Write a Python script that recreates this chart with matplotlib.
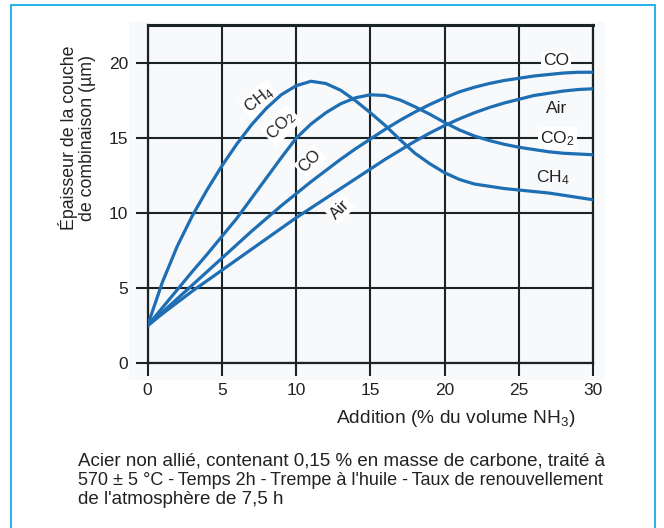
import matplotlib
matplotlib.use("Agg")
import matplotlib.pyplot as plt
from matplotlib.patches import Rectangle

plt.rcParams['font.family'] = ['Liberation Sans', 'DejaVu Sans']
plt.rcParams['mathtext.default'] = 'regular'

# Addition (% du volume NH3)
addition = [0, 1, 2, 3, 4, 5, 6, 7, 8, 9, 10, 11, 12, 13, 14, 15,
            16, 17, 18, 19, 20, 21, 22, 23, 24, 25, 26, 27, 28, 29, 30]

# Epaisseur de la couche de combinaison (um) for each added gas
ch4 = [2.5, 5.4, 7.8, 9.8, 11.55, 13.15, 14.6, 15.9, 17.0, 17.9, 18.5, 18.8, 18.65, 18.2, 17.5, 16.7,
       15.85, 14.9, 14.0, 13.3, 12.7, 12.25, 11.95, 11.8, 11.65, 11.55, 11.45, 11.35, 11.2, 11.05, 10.9]
co2 = [2.5, 3.7, 4.9, 6.1, 7.25, 8.45, 9.65, 11.0, 12.35, 13.7, 15.0, 15.95, 16.7, 17.3, 17.7, 17.9,
       17.85, 17.55, 17.1, 16.6, 16.05, 15.55, 15.15, 14.85, 14.6, 14.4, 14.25, 14.1, 14.0, 13.95, 13.9]
co = [2.5, 3.4, 4.3, 5.2, 6.1, 7.0, 7.9, 8.8, 9.65, 10.5, 11.3, 12.1, 12.85, 13.6, 14.3, 14.95,
      15.6, 16.2, 16.75, 17.25, 17.7, 18.1, 18.4, 18.65, 18.85, 19.0, 19.15, 19.25, 19.35, 19.4, 19.4]
air = [2.5, 3.3, 4.05, 4.8, 5.5, 6.2, 6.9, 7.6, 8.3, 9.0, 9.7, 10.35, 11.0, 11.65, 12.3, 12.95,
       13.6, 14.2, 14.8, 15.35, 15.85, 16.3, 16.7, 17.05, 17.35, 17.6, 17.85, 18.0, 18.15, 18.25, 18.3]

x_ticks = [0, 5, 10, 15, 20, 25, 30]
y_ticks = [0, 5, 10, 15, 20]

caption_lines = [
    "Acier non allié, contenant 0,15 % en masse de carbone, traité à",
    "570 ± 5 °C -\u2009Temps 2h -\u2009Trempe à l'huile -\u2009Taux de renouvellement",
    "de l'atmosphère de 7,5 h",
]
caption_sizes = [13.5, 13.0, 13.5]

CURVE = "#1e6eb4"
GRID = "#1b2424"
TXT = "#222222"

fig = plt.figure(figsize=(6.64, 5.28), dpi=100)

# light blue frame around the figure and faint scan background
fig.patches.append(Rectangle((10.6 / 664, -0.05), 644 / 664, 1 - 4.7 / 528 + 0.05,
                             transform=fig.transFigure, fill=False,
                             edgecolor="#12aee6", linewidth=1.3, zorder=-5))
fig.patches.append(Rectangle((129 / 664, 1 - 380 / 528), 476 / 664, 358 / 528,
                             transform=fig.transFigure, facecolor="#f8f9fb",
                             edgecolor="none", zorder=-5))

ax = fig.add_axes([147.5 / 664, 1 - 363.3 / 528, 445.8 / 664, 338.3 / 528])
ax.set_zorder(1)
ax.set_facecolor("none")
ax.set_xlim(0, 30)
ax.set_ylim(0, 22.55)
ax.set_xticks(x_ticks)
ax.set_yticks(y_ticks)
ax.set_axisbelow(True)
ax.grid(True, color=GRID, linewidth=1.5)
for s in ax.spines.values():
    s.set_color(GRID)
    s.set_linewidth(1.6)
ax.spines["top"].set_linewidth(2.2)
ax.tick_params(direction="out", length=9, width=1.5, color=GRID,
               labelsize=12.5, pad=5, labelcolor=TXT)

for ys in [ch4, co2, co, air]:
    ax.plot(addition, ys, color=CURVE, linewidth=2.3, zorder=4,
            solid_capstyle="round", solid_joinstyle="round")

box = dict(facecolor="white", edgecolor="none", pad=1.5)
# labels along the rising parts
ax.text(7.5, 17.55, "CH$_4$", rotation=38, fontsize=12, ha="center", va="center",
        bbox=box, zorder=3, color=TXT)
ax.text(9.0, 15.85, "CO$_2$", rotation=45, fontsize=12, ha="center", va="center",
        bbox=box, zorder=3, color=TXT)
ax.text(10.95, 13.45, "CO", rotation=45, fontsize=12, ha="center", va="center",
        bbox=box, zorder=3, color=TXT)
ax.text(12.95, 10.25, "Air", rotation=45, fontsize=12, ha="center", va="center",
        bbox=box, zorder=3, color=TXT)
# labels at the right end
ax.text(27.5, 20.2, "CO", fontsize=12.5, ha="center", va="center", bbox=box, zorder=3, color=TXT)
ax.text(27.5, 17.0, "Air", fontsize=12.5, ha="center", va="center", zorder=3, color=TXT)
ax.text(27.6, 15.0, "CO$_2$", fontsize=12.5, ha="center", va="center", bbox=box, zorder=3, color=TXT)
ax.text(27.3, 12.4, "CH$_4$", fontsize=12.5, ha="center", va="center", zorder=3, color=TXT)

fig.text(456 / 664, 1 - 418.5 / 528, "Addition (% du volume NH$_3$)",
         fontsize=13.8, ha="center", va="center", color=TXT)
fig.text(77 / 664, 1 - 138 / 528, "Épaisseur de la couche\nde combinaison (µm)",
         fontsize=12.8, rotation=90, ha="center", va="center", linespacing=1.0,
         multialignment="center", color=TXT)

for i, (line, size) in enumerate(zip(caption_lines, caption_sizes)):
    fig.text(78.4 / 664, 1 - (465.3 + 19.4 * i) / 528, line, fontsize=size,
             ha="left", va="baseline", color=TXT)

fig.savefig("out.png", dpi=100)
